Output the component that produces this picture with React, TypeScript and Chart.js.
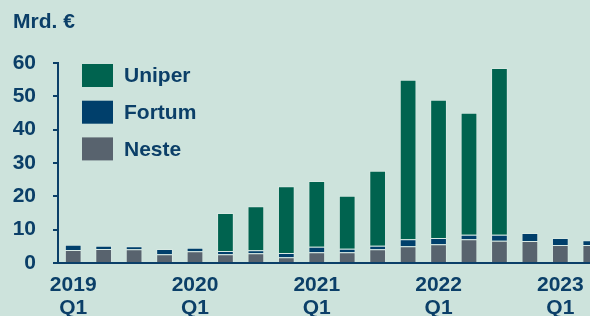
import React, { useEffect, useRef } from "react";
import { Chart, registerables } from "chart.js";

Chart.register(...registerables);

const categories = [
  "2019 Q1", "2019 Q2", "2019 Q3", "2019 Q4",
  "2020 Q1", "2020 Q2", "2020 Q3", "2020 Q4",
  "2021 Q1", "2021 Q2", "2021 Q3", "2021 Q4",
  "2022 Q1", "2022 Q2", "2022 Q3", "2022 Q4",
  "2023 Q1", "2023 Q2",
];
const neste = [3.9, 4.2, 4.1, 2.6, 3.5, 2.6, 2.9, 1.7, 3.2, 3.2, 4.1, 5.0, 5.6, 7.1, 6.7, 6.6, 5.4, 5.4];
const fortum = [1.6, 1.0, 0.9, 1.6, 1.1, 1.0, 0.9, 1.3, 1.7, 1.1, 1.1, 2.1, 1.9, 1.4, 1.8, 2.4, 2.1, 1.4];
const uniper = [0, 0, 0, 0, 0, 11.4, 13.2, 20.0, 19.7, 15.9, 22.5, 47.9, 41.5, 36.6, 50.0, 0, 0, 0];
const yTicks = [0, 10, 20, 30, 40, 50, 60];
const unitLabel = "Mrd. €";

const BG = "#cde3dc";
const NAVY = "#0b3f68";
const GREEN = "#00634f";
const BLUE = "#003f6b";
const GREY = "#58636e";
const FONT = "'Liberation Sans', Arial, sans-serif";
const FS = 21;

function xLabel(cat: string): string | string[] {
  const [year, q] = cat.split(" ");
  return q === "Q1" ? [year, q] : "";
}

export default function App() {
  const ref = useRef<HTMLCanvasElement | null>(null);

  useEffect(() => {
    if (!ref.current) return;
    const overlay = {
      id: "overlay",
      beforeDraw(chart: any) {
        const ctx = chart.ctx;
        ctx.save();
        ctx.fillStyle = BG;
        ctx.fillRect(0, 0, chart.width, chart.height);
        ctx.restore();
      },
      afterDraw(chart: any) {
        const ctx = chart.ctx;
        ctx.save();
        ctx.font = `bold ${FS}px ${FONT}`;
        ctx.fillStyle = NAVY;
        ctx.textBaseline = "middle";
        ctx.textAlign = "left";
        ctx.fillText(unitLabel, 13, 22);
        const ds = [...chart.data.datasets].reverse();
        ds.forEach((d: any, i: number) => {
          const top = 64 + i * 36.7;
          ctx.fillStyle = d.backgroundColor;
          ctx.fillRect(82, top, 31, 23);
          ctx.fillStyle = NAVY;
          ctx.fillText(d.label, 124, top + 12.5);
        });
        ctx.restore();
      },
    };

    const chart = new Chart(ref.current, {
      type: "bar",
      data: {
        labels: categories.map(xLabel),
        datasets: [
          { label: "Neste", data: neste, backgroundColor: GREY },
          { label: "Fortum", data: fortum, backgroundColor: BLUE },
          { label: "Uniper", data: uniper, backgroundColor: GREEN },
        ].map((d) => ({
          ...d,
          borderColor: "rgba(255,255,255,0.22)",
          borderWidth: 1,
          borderSkipped: "bottom",
          barPercentage: 0.55,
          categoryPercentage: 1,
        })),
      },
      options: {
        animation: false,
        responsive: false,
        devicePixelRatio: 1,
        layout: { padding: { top: 63, left: 0, right: 0, bottom: 0 } },
        plugins: { legend: { display: false }, tooltip: { enabled: false }, title: { display: false } },
        scales: {
          x: {
            stacked: true,
            grid: { display: true, drawOnChartArea: false, drawTicks: false },
            border: { display: true, color: NAVY, width: 2 },
            ticks: {
              autoSkip: false,
              maxRotation: 0,
              color: NAVY,
              padding: 11,
              font: { family: FONT, size: FS, weight: "bold", lineHeight: 1.1 },
            },
            afterFit(scale: any) {
              scale.height = 53;
            },
          },
          y: {
            stacked: true,
            min: 0,
            max: 60,
            afterBuildTicks(scale: any) {
              scale.ticks = yTicks.map((v) => ({ value: v }));
            },
            grid: { drawOnChartArea: false, drawTicks: true, tickLength: 5, color: NAVY, lineWidth: 2 },
            border: { display: true, color: NAVY, width: 2 },
            ticks: {
              color: NAVY,
              padding: 17,
              font: { family: FONT, size: FS, weight: "bold" },
            },
            afterFit(scale: any) {
              scale.width = 58;
            },
          },
        },
      },
      plugins: [overlay],
    } as any);
    return () => chart.destroy();
  }, []);

  return (
    <div
      style={{
        position: "fixed",
        left: 0,
        top: 0,
        width: 590,
        height: 316,
        overflow: "hidden",
        background: BG,
      }}
    >
      <canvas ref={ref} width={606} height={316} style={{ display: "block", width: 606, height: 316 }} />
    </div>
  );
}
